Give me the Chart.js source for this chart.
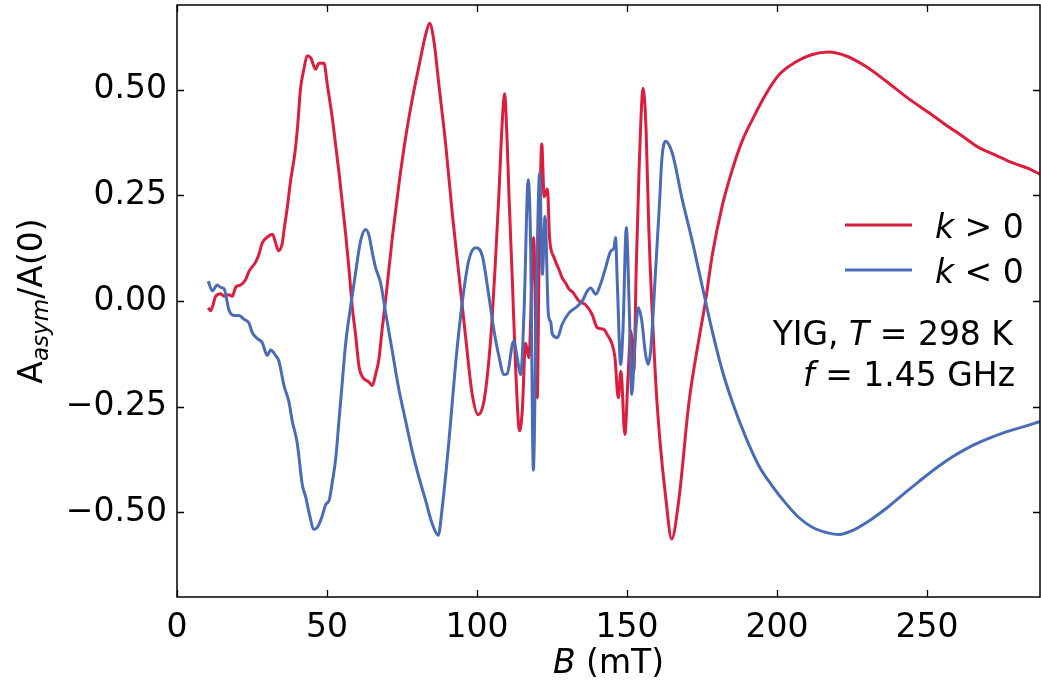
<!DOCTYPE html>
<html>
<head>
<meta charset="utf-8">
<script src="https://cdn.jsdelivr.net/npm/chart.js@4.4.1/dist/chart.umd.min.js"></script>
<style>
  html, body { margin: 0; padding: 0; background: #fff; }
  canvas { display: block; }
</style>
</head>
<body>
<canvas id="chart" width="1041" height="683"></canvas>
<script>
// field B (mT) and normalised asymmetry
const redB = [10.4, 11.2, 12.9, 14.6, 15.7, 17.3, 18.4, 19.6, 21.2, 22.9, 24.0, 26.2, 27.3, 28.4, 30.1, 31.8, 32.9, 33.8, 35.1, 35.7,
  36.8, 37.9, 39.3, 40.1, 41.2, 42.3, 43.4, 44.6, 46.2, 47.3, 49.0, 50.1, 51.8, 52.9, 54.0, 55.1, 56.2, 57.3, 58.4, 59.6,
  60.7, 61.8, 64.0, 65.1, 66.2, 67.3, 68.4, 69.6, 71.8, 74.0, 76.2, 78.4, 80.7, 82.9, 84.2, 85.7, 87.3, 89.6, 91.8, 94.0,
  96.2, 98.4, 100.4, 102.3, 104.0, 105.1, 106.2, 107.3, 108.4, 109.2, 110.1, 110.7, 111.8, 112.9, 114.2, 115.1, 116.2, 117.3, 118.9, 120.1,
  120.7, 121.6, 122.4, 123.5, 124.2, 125.7, 127.3, 128.4, 129.6, 130.7, 131.8, 134.0, 136.2, 138.4, 140.1, 142.3, 143.4, 145.1, 146.0, 147.1,
  148.0, 149.3, 150.4, 151.3, 152.3, 153.1, 154.0, 155.4, 156.4, 157.3, 159.6, 161.0, 162.9, 164.9, 167.3, 170.7, 174.0, 176.2, 178.4, 181.8,
  185.1, 188.4, 191.8, 196.2, 200.7, 206.2, 211.8, 217.3, 222.9, 229.6, 236.2, 244.0, 250.7, 256.2, 261.8, 267.3, 272.9, 278.4, 284.0, 287.6];
const redA = [-0.016, -0.023, 0.011, 0.017, 0.011, 0.015, 0.011, 0.033, 0.038, 0.051, 0.070, 0.092, 0.110, 0.137, 0.151, 0.158, 0.137, 0.119, 0.137, 0.169,
  0.223, 0.286, 0.350, 0.404, 0.503, 0.548, 0.580, 0.575, 0.548, 0.562, 0.562, 0.512, 0.431, 0.368, 0.304, 0.232, 0.160, 0.079, -0.012, -0.084,
  -0.156, -0.179, -0.192, -0.200, -0.174, -0.138, -0.066, 0.006, 0.151, 0.277, 0.386, 0.476, 0.557, 0.630, 0.657, 0.612, 0.512, 0.368, 0.205, 0.061,
  -0.084, -0.220, -0.269, -0.238, -0.138, -0.037, 0.100, 0.250, 0.420, 0.490, 0.370, 0.245, 0.047, -0.160, -0.307, -0.260, -0.100, -0.134, 0.150, -0.229,
  0.088, 0.371, 0.247, 0.265, 0.150, 0.103, 0.075, 0.055, 0.042, 0.028, 0.022, 0.000, -0.009, -0.032, -0.063, -0.067, -0.079, -0.103, -0.134, -0.229,
  -0.166, -0.316, -0.174, -0.071, -0.166, 0.079, 0.300, 0.503, 0.400, 0.169, -0.192, -0.330, -0.463, -0.563, -0.470, -0.238, -0.090, 0.000, 0.107, 0.226,
  0.310, 0.378, 0.429, 0.488, 0.535, 0.565, 0.583, 0.589, 0.580, 0.555, 0.521, 0.478, 0.445, 0.417, 0.390, 0.363, 0.345, 0.327, 0.313, 0.300];

const blueB = [10.4, 11.8, 13.4, 14.6, 15.7, 17.3, 19.0, 20.7, 22.3, 24.0, 25.1, 26.8, 28.4, 30.1, 31.2, 32.9, 34.0, 35.7, 37.3, 38.4,
  40.1, 41.8, 42.9, 44.0, 45.7, 46.8, 48.4, 49.6, 50.7, 51.8, 52.9, 54.0, 55.1, 56.2, 57.9, 59.6, 61.2, 62.9, 64.0, 65.1,
  66.2, 67.9, 69.6, 71.8, 74.0, 76.2, 78.4, 80.7, 82.9, 85.1, 87.1, 88.4, 90.7, 92.9, 95.1, 97.3, 99.6, 101.8, 104.0, 105.7,
  107.3, 109.0, 110.1, 111.8, 112.3, 113.4, 114.6, 115.7, 117.1, 117.9, 118.8, 119.8, 120.9, 121.8, 122.7, 123.8, 124.6, 125.1, 126.8, 128.4,
  130.7, 133.4, 135.1, 136.8, 137.9, 139.6, 141.2, 142.9, 144.6, 145.7, 146.2, 146.8, 147.9, 148.7, 149.8, 150.7, 151.6, 152.7, 153.8, 154.9,
  156.2, 157.1, 157.9, 159.6, 160.9, 161.6, 162.9, 165.1, 168.4, 171.8, 175.1, 178.4, 181.8, 185.1, 189.6, 194.0, 198.4, 202.9, 207.3, 211.8,
  217.3, 220.7, 225.1, 230.7, 236.2, 241.8, 247.3, 252.9, 258.4, 264.0, 269.6, 276.2, 282.9, 287.6];
const blueA = [0.047, 0.024, 0.038, 0.032, 0.029, -0.021, -0.034, -0.034, -0.043, -0.052, -0.075, -0.089, -0.098, -0.129, -0.116, -0.129, -0.143, -0.201, -0.238, -0.283,
  -0.337, -0.436, -0.463, -0.500, -0.540, -0.535, -0.509, -0.481, -0.472, -0.427, -0.373, -0.283, -0.192, -0.102, -0.012, 0.070, 0.142, 0.169, 0.155, 0.115,
  0.079, 0.042, -0.030, -0.120, -0.210, -0.283, -0.355, -0.418, -0.472, -0.527, -0.554, -0.490, -0.328, -0.147, -0.003, 0.097, 0.126, 0.106, 0.010, -0.071,
  -0.130, -0.174, -0.172, -0.102, -0.095, -0.134, -0.174, -0.024, 0.287, 0.126, -0.400, 0.008, 0.303, 0.063, 0.200, -0.031, -0.050, -0.078, -0.087, -0.055,
  -0.028, -0.013, 0.000, 0.024, 0.031, 0.016, 0.040, 0.079, 0.118, 0.126, 0.150, 0.040, -0.150, -0.063, 0.174, 0.000, -0.221, -0.095, -0.016, -0.045,
  -0.126, -0.150, -0.118, 0.079, 0.237, 0.332, 0.378, 0.350, 0.241, 0.141, 0.035, -0.070, -0.165, -0.238, -0.322, -0.390, -0.437, -0.478, -0.512, -0.535,
  -0.549, -0.552, -0.543, -0.520, -0.492, -0.459, -0.427, -0.396, -0.369, -0.346, -0.328, -0.310, -0.296, -0.285];

const xTicks = [0, 50, 100, 150, 200, 250];
const yTicks = [-0.5, -0.25, 0, 0.25, 0.5];

const RED = '#dc1e3e';
const BLUE = '#4a6bb6';
const FONT = '"DejaVu Sans", sans-serif';
const FS = 33;

function pairs(xs, ys) {
  return xs.map((x, i) => ({ x: x, y: ys[i] }));
}

// draws text made of pieces, some italic or subscript; y is the visual middle
function drawRich(ctx, parts, x, y, align) {
  const fontOf = p => (p.i ? 'italic ' : '') + (p.sub ? FS * 0.7 : FS) + 'px ' + FONT;
  let total = 0;
  parts.forEach(p => { ctx.font = fontOf(p); p.w = ctx.measureText(p.t).width; total += p.w; });
  let cx = align === 'right' ? x - total : align === 'center' ? x - total / 2 : x;
  const base = y + FS * 0.36;
  ctx.textAlign = 'left';
  ctx.textBaseline = 'alphabetic';
  parts.forEach(p => {
    ctx.font = fontOf(p);
    ctx.fillText(p.t, cx, p.sub ? base + FS * 0.2 : base);
    cx += p.w;
  });
}

const decorPlugin = {
  id: 'decor',
  afterDraw(chart) {
    const c = chart.ctx;
    const a = chart.chartArea;
    const xs = chart.scales.x, ys = chart.scales.y;
    c.save();
    c.strokeStyle = '#000';
    c.fillStyle = '#000';
    c.lineWidth = 1.5;
    c.strokeRect(a.left, a.top, a.right - a.left, a.bottom - a.top);

    // inward ticks on all four sides
    c.lineWidth = 1.3;
    c.beginPath();
    xTicks.forEach(v => {
      const px = Math.round(xs.getPixelForValue(v)) + 0.5;
      c.moveTo(px, a.bottom); c.lineTo(px, a.bottom - 7);
      c.moveTo(px, a.top); c.lineTo(px, a.top + 7);
    });
    yTicks.forEach(v => {
      const py = Math.round(ys.getPixelForValue(v)) + 0.5;
      c.moveTo(a.left, py); c.lineTo(a.left + 7, py);
      c.moveTo(a.right, py); c.lineTo(a.right - 7, py);
    });
    c.stroke();

    // axis titles
    drawRich(c, [{ t: 'B', i: true }, { t: ' (mT)' }], (a.left + a.right) / 2, 661, 'center');
    c.save();
    c.translate(30, (a.top + a.bottom) / 2);
    c.rotate(-Math.PI / 2);
    drawRich(c, [{ t: 'A' }, { t: 'asym', sub: true, i: true }, { t: '/A(0)' }], 0, 0, 'center');
    c.restore();

    // legend
    const rows = [[chart.data.datasets[0], 225], [chart.data.datasets[1], 270]];
    rows.forEach(([ds, y]) => {
      c.strokeStyle = ds.borderColor;
      c.lineWidth = 3;
      c.beginPath();
      c.moveTo(845, y); c.lineTo(912, y);
      c.stroke();
      drawRich(c, [{ t: 'k', i: true }, { t: ds.label.slice(1) }], 935, y + 1, 'left');
    });

    // sample note
    drawRich(c, [{ t: 'YIG, ' }, { t: 'T', i: true }, { t: ' = 298 K' }], 1013, 333, 'right');
    drawRich(c, [{ t: 'f', i: true }, { t: ' = 1.45 GHz' }], 1015, 374, 'right');
    c.restore();
  }
};

new Chart(document.getElementById('chart').getContext('2d'), {
  type: 'line',
  data: {
    datasets: [
      { label: 'k > 0', data: pairs(redB, redA), borderColor: RED, order: 1 },
      { label: 'k < 0', data: pairs(blueB, blueA), borderColor: BLUE, order: 0 }
    ]
  },
  options: {
    responsive: false,
    animation: false,
    devicePixelRatio: 1,
    layout: { padding: { top: 5, right: 1, left: 0, bottom: 0 } },
    elements: {
      point: { radius: 0 },
      line: { borderWidth: 3, cubicInterpolationMode: 'monotone', fill: false }
    },
    plugins: { legend: { display: false }, tooltip: { enabled: false } },
    scales: {
      x: {
        type: 'linear', min: 0, max: 287.7,
        grid: { display: false, drawTicks: false },
        border: { display: false },
        afterBuildTicks: s => { s.ticks = xTicks.map(v => ({ value: v })); },
        afterFit: s => { s.height = 86; s.paddingLeft = 0; s.paddingRight = 0; },
        ticks: {
          autoSkip: false, maxRotation: 0, padding: 12, color: '#000',
          font: { family: FONT, size: FS },
          callback: v => String(v)
        }
      },
      y: {
        type: 'linear', min: -0.70, max: 0.70,
        grid: { display: false, drawTicks: false },
        border: { display: false },
        afterBuildTicks: s => { s.ticks = yTicks.map(v => ({ value: v })); },
        afterFit: s => { s.width = 177; s.paddingTop = 0; s.paddingBottom = 0; },
        ticks: {
          autoSkip: false, padding: 10, color: '#000',
          font: { family: FONT, size: FS },
          callback: v => v.toFixed(2).replace('-', '\u2212')
        }
      }
    }
  },
  plugins: [decorPlugin]
});
</script>
</body>
</html>
